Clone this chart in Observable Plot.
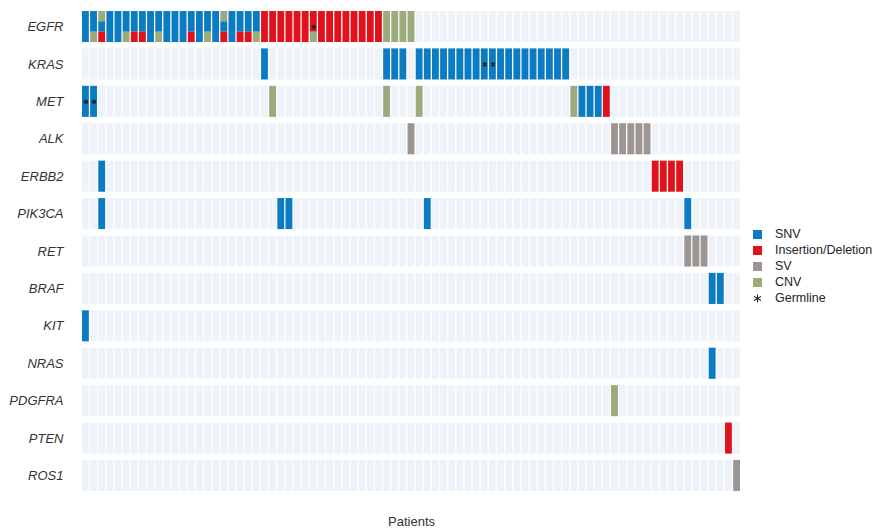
<!DOCTYPE html>
<html><head><meta charset="utf-8">
<script src="https://cdn.jsdelivr.net/npm/d3@7"></script>
<script src="https://cdn.jsdelivr.net/npm/@observablehq/plot@0.6"></script>
<style>
body{margin:0;background:#fff;font-family:Arial,"Liberation Sans",Helvetica,sans-serif;}
#wrap{position:relative;width:874px;height:528px;}
#wrap svg g[aria-label^="fy-axis"] text{font-style:italic;}
.legend{position:absolute;left:753px;top:226px;font-size:12.5px;color:#222;line-height:16px;}
.legend .row{height:16px;display:flex;align-items:center;}
.legend .sw{width:9px;height:9px;margin-right:13px;display:inline-block;}
.legend svg{margin-right:13px;}
</style></head><body><div id="wrap"></div>
<script>
// ---- data ----
const genes = ["EGFR","KRAS","MET","ALK","ERBB2","PIK3CA","RET","BRAF","KIT","NRAS","PDGFRA","PTEN","ROS1"];
const typeCodes = {S:"SNV", I:"Insertion/Deletion", V:"SV", C:"CNV"};
const typeNames = ["SNV","Insertion/Deletion","SV","CNV"];
const typeColors = ["#0b7cc1","#e2121d","#9c9592","#9bab7c"];
const nPatients = 81;
// [patient index, alterations stacked top→bottom]
const EGFR = [[0,"S"],[1,"SC"],[2,"CSI"],[3,"S"],[4,"S"],[5,"SC"],[6,"SI"],[7,"SI"],[8,"S"],[9,"SC"],
  [10,"S"],[11,"S"],[12,"S"],[13,"SI"],[14,"S"],[15,"SC"],[16,"S"],[17,"CSI"],[18,"S"],[19,"SI"],[20,"SI"],[21,"SC"],
  [22,"I"],[23,"I"],[24,"I"],[25,"I"],[26,"I"],[27,"I"],[28,"IC"],[29,"I"],[30,"I"],[31,"I"],[32,"I"],[33,"I"],
  [34,"I"],[35,"I"],[36,"I"],[37,"C"],[38,"C"],[39,"C"],[40,"C"]];
const KRAS = [[22,"S"],[37,"S"],[38,"S"],[39,"S"],[41,"S"],[42,"S"],[43,"S"],[44,"S"],[45,"S"],[46,"S"],[47,"S"],
  [48,"S"],[49,"S"],[50,"S"],[51,"S"],[52,"S"],[53,"S"],[54,"S"],[55,"S"],[56,"S"],[57,"S"],[58,"S"],[59,"S"]];
const MET = [[0,"S"],[1,"S"],[23,"C"],[37,"C"],[41,"C"],[60,"C"],[61,"S"],[62,"S"],[63,"S"],[64,"I"]];
const ALK = [[40,"V"],[65,"V"],[66,"V"],[67,"V"],[68,"V"],[69,"V"]];
const ERBB2 = [[2,"S"],[70,"I"],[71,"I"],[72,"I"],[73,"I"]];
const PIK3CA = [[2,"S"],[24,"S"],[25,"S"],[42,"S"],[74,"S"]];
const RET = [[74,"V"],[75,"V"],[76,"V"]];
const BRAF = [[77,"S"],[78,"S"]];
const KIT = [[0,"S"]];
const NRAS = [[77,"S"]];
const PDGFRA = [[65,"C"]];
const PTEN = [[79,"I"]];
const ROS1 = [[80,"V"]];
const germline = [["EGFR",28],["KRAS",49],["KRAS",50],["MET",0],["MET",1]];

// ---- build tables ----
const alterations = {EGFR,KRAS,MET,ALK,ERBB2,PIK3CA,RET,BRAF,KIT,NRAS,PDGFRA,PTEN,ROS1};
const patients = d3.range(nPatients);
const background = genes.flatMap(g => patients.map(p => ({gene: g, patient: p})));
const segments = [];
for (const g of genes) {
  for (const [p, codes] of alterations[g]) {
    const n = codes.length;
    [...codes].forEach((c, k) => {
      let a, b;
      if (n === 1) { a = 0; b = 1; }
      else if (n === 2) { a = k === 0 ? 0 : 2/3; b = k === 0 ? 2/3 : 1; }
      else { a = k / n; b = (k + 1) / n; }
      segments.push({gene: g, patient: p, type: typeCodes[c], y1: a, y2: b});
    });
  }
}
const germ = germline.map(([g, p]) => ({gene: g, patient: p}));

const chart = Plot.plot({
  width: 874, height: 528,
  marginLeft: 82, marginRight: 134, marginTop: 11, marginBottom: 37,
  style: {fontSize: "13px", fontFamily: "Arial, 'Liberation Sans', Helvetica, sans-serif", color: "#333", background: "white"},
  x: {domain: patients, round: false, paddingInner: 0.16, paddingOuter: 0, tickSize: 0, tickFormat: () => "", label: "Patients", labelAnchor: "center", labelOffset: 34},
  y: {domain: [0, 1], reverse: true, axis: null},
  fy: {domain: genes, round: false, paddingInner: 0.17, paddingOuter: 0, tickSize: 0, tickPadding: 19, label: null},
  color: {domain: typeNames, range: typeColors},
  marks: [
    Plot.barY(background, {x: "patient", y1: 0, y2: 1, fy: "gene", fill: "#eef2f9"}),
    Plot.barY(segments, {x: "patient", y1: "y1", y2: "y2", fy: "gene", fill: "type"}),
    Plot.dot(germ, {x: "patient", y: 0.5, fy: "gene", symbol: "asterisk", r: 2.2, stroke: "#222", strokeWidth: 1.3})
  ]
});
const wrap = document.getElementById("wrap");
wrap.appendChild(chart);

// legend
const legend = document.createElement("div");
legend.className = "legend";
typeNames.forEach((t, i) => {
  const row = document.createElement("div");
  row.className = "row";
  row.innerHTML = `<span class="sw" style="background:${typeColors[i]}"></span><span>${t}</span>`;
  legend.appendChild(row);
});
const grow = document.createElement("div");
grow.className = "row";
grow.innerHTML = `<svg width="9" height="9" viewBox="-4.5 -4.5 9 9"><g stroke="#222" stroke-width="1.1"><line x1="0" y1="-4" x2="0" y2="4"/><line x1="-3.5" y1="-2" x2="3.5" y2="2"/><line x1="-3.5" y1="2" x2="3.5" y2="-2"/></g></svg><span>Germline</span>`;
legend.appendChild(grow);
wrap.appendChild(legend);
</script>
</body></html>
